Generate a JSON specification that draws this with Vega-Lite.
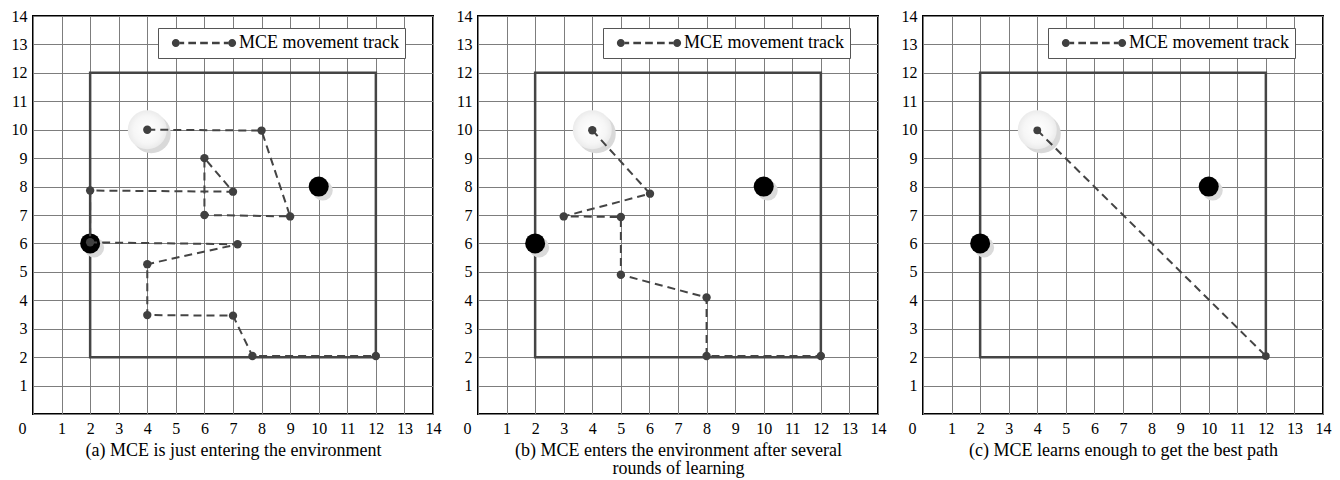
{
  "$schema": "https://vega.github.io/schema/vega-lite/v6.json",
  "padding": {"left": 10, "top": 7, "right": 5, "bottom": 5},
  "spacing": 45,
  "bounds": "flush",
  "datasets": {
    "track": [
      {"panel": "a", "order": 1, "x": 4, "y": 10},
      {"panel": "a", "order": 2, "x": 8, "y": 9.97},
      {"panel": "a", "order": 3, "x": 9, "y": 6.95},
      {"panel": "a", "order": 4, "x": 6, "y": 7},
      {"panel": "a", "order": 5, "x": 6, "y": 9},
      {"panel": "a", "order": 6, "x": 7, "y": 7.82},
      {"panel": "a", "order": 7, "x": 2, "y": 7.86},
      {"panel": "a", "order": 8, "x": 2, "y": 6.04},
      {"panel": "a", "order": 9, "x": 7.16, "y": 5.97},
      {"panel": "a", "order": 10, "x": 4, "y": 5.27},
      {"panel": "a", "order": 11, "x": 4, "y": 3.48},
      {"panel": "a", "order": 12, "x": 7, "y": 3.46},
      {"panel": "a", "order": 13, "x": 7.68, "y": 2.04},
      {"panel": "a", "order": 14, "x": 12, "y": 2.04},
      {"panel": "b", "order": 1, "x": 4, "y": 9.98},
      {"panel": "b", "order": 2, "x": 6.02, "y": 7.75},
      {"panel": "b", "order": 3, "x": 3, "y": 6.95},
      {"panel": "b", "order": 4, "x": 5, "y": 6.93},
      {"panel": "b", "order": 5, "x": 5, "y": 4.9},
      {"panel": "b", "order": 6, "x": 8, "y": 4.1},
      {"panel": "b", "order": 7, "x": 8, "y": 2.04},
      {"panel": "b", "order": 8, "x": 12, "y": 2.04},
      {"panel": "c", "order": 1, "x": 4, "y": 9.98},
      {"panel": "c", "order": 2, "x": 12, "y": 2.04}
    ],
    "objects": [
      {"kind": "start", "x": 4, "y": 10},
      {"kind": "obstacle", "x": 2, "y": 6},
      {"kind": "obstacle", "x": 10, "y": 8}
    ],
    "frame": [
      {"x": 2, "xe": 12, "y": 2, "ye": 12}
    ]
  },
  "config": {
    "font": "Liberation Serif",
    "view": {"stroke": "#000000", "strokeWidth": 2},
    "axis": {
      "grid": true,
      "gridColor": "#7d7d7d",
      "gridWidth": 1,
      "gridOpacity": 1,
      "domain": false,
      "ticks": false,
      "labelFont": "Liberation Serif",
      "labelFontSize": 16,
      "labelColor": "#000000",
      "labelPadding": 6,
      "labelFlush": false,
      "labelOverlap": false,
      "titleFont": "Liberation Serif",
      "titleFontSize": 18,
      "titleFontWeight": "normal",
      "titleColor": "#000000",
      "titlePadding": 5,
      "titleLineHeight": 18
    },
    "legend": {
      "orient": "none",
      "legendX": 125,
      "legendY": 12,
      "title": null,
      "padding": 6,
      "strokeColor": "#555555",
      "fillColor": "#ffffff",
      "labelFont": "Liberation Serif",
      "labelFontSize": 18,
      "labelColor": "#000000",
      "labelOffset": 26,
      "labelExpr": "datum.label + '\u00a0\u00a0'",
      "symbolType": "M -4.02 0 A 0.5 0.5 0 1 0 -3.02 0 A 0.5 0.5 0 1 0 -4.02 0 Z M 3.02 0 A 0.5 0.5 0 1 0 4.02 0 A 0.5 0.5 0 1 0 3.02 0 Z M -3.02 -0.16 H -2.48 V 0.16 H -3.02 Z M -1.96 -0.16 H -1 V 0.16 H -1.96 Z M -0.48 -0.16 H 0.48 V 0.16 H -0.48 Z M 1 -0.16 H 1.96 V 0.16 H 1 Z M 2.48 -0.16 H 3.02 V 0.16 H 2.48 Z",
      "symbolSize": 256,
      "symbolFillColor": "#404040",
      "symbolStrokeWidth": 0,
      "symbolOffset": 31
    }
  },
  "resolve": {"scale": {"color": "independent"}, "legend": {"color": "independent"}},
  "hconcat": [
    {
      "width": 400,
      "height": 398,
      "encoding": {
        "x": {"field": "x", "type": "quantitative", "scale": {"domain": [0, 14], "nice": false},
          "axis": {"title": "(a) MCE is just entering the environment", "values": [0,1,2,3,4,5,6,7,8,9,10,11,12,13,14],
            "labelFont": "Liberation Serif", "labelFontSize": 16, "titleFont": "Liberation Serif", "titleFontSize": 18,
            "labelOffset": {"condition": {"test": "datum.value == 0", "value": -11}, "value": 0}}},
        "y": {"field": "y", "type": "quantitative", "scale": {"domain": [0, 14], "nice": false},
          "axis": {"title": null, "values": [0,1,2,3,4,5,6,7,8,9,10,11,12,13,14], "labelFont": "Liberation Serif", "labelFontSize": 16,
            "labelExpr": "datum.value == 0 ? '' : datum.label"}}
      },
      "layer": [
        {
          "data": {"name": "frame"},
          "mark": {"type": "rect", "fill": "transparent", "stroke": "#454545", "strokeWidth": 2.5},
          "encoding": {"x2": {"field": "xe"}, "y2": {"field": "ye"}}
        },
        {
          "data": {"name": "objects"},
          "transform": [{"filter": "datum.kind == 'obstacle'"}],
          "mark": {"type": "point", "filled": true, "color": "#dadada", "opacity": 1, "size": 400, "xOffset": 4, "yOffset": 4}
        },
        {
          "data": {"name": "objects"},
          "transform": [{"filter": "datum.kind == 'start'"}],
          "mark": {"type": "point", "filled": true, "color": "#d9d9d9", "opacity": 1, "size": 1520, "xOffset": 4, "yOffset": 4}
        },
        {
          "data": {"name": "objects"},
          "transform": [{"filter": "datum.kind == 'start'"}],
          "mark": {"type": "point", "filled": true, "opacity": 1, "size": 1520,
            "color": {"gradient": "radial", "x1": 0.5, "y1": 0.5, "x2": 0.5, "y2": 0.5, "r1": 0, "r2": 0.5,
              "stops": [{"offset": 0, "color": "#ffffff"}, {"offset": 0.7, "color": "#f6f6f6"}, {"offset": 1, "color": "#ebebeb"}]}}
        },
        {
          "data": {"name": "objects"},
          "transform": [{"filter": "datum.kind == 'obstacle'"}],
          "mark": {"type": "point", "filled": true, "color": "#000000", "opacity": 1, "size": 400}
        },
        {
          "data": {"name": "track"},
          "transform": [{"filter": "datum.panel == 'a'"}],
          "mark": {"type": "line", "color": "#444444", "strokeWidth": 2, "strokeDash": [8, 5]},
          "encoding": {"order": {"field": "order", "type": "quantitative"}}
        },
        {
          "data": {"name": "track"},
          "transform": [{"filter": "datum.panel == 'a'"}],
          "mark": {"type": "point", "filled": true, "opacity": 1, "size": 70},
          "encoding": {"color": {"datum": "MCE movement track", "type": "nominal", "scale": {"range": ["#404040"]}}}
        }
      ]
    },
    {
      "width": 400,
      "height": 398,
      "encoding": {
        "x": {"field": "x", "type": "quantitative", "scale": {"domain": [0, 14], "nice": false},
          "axis": {"title": ["(b) MCE enters the environment after several", "rounds of learning"], "values": [0,1,2,3,4,5,6,7,8,9,10,11,12,13,14],
            "labelFont": "Liberation Serif", "labelFontSize": 16, "titleFont": "Liberation Serif", "titleFontSize": 18,
            "labelOffset": {"condition": {"test": "datum.value == 0", "value": -11}, "value": 0}}},
        "y": {"field": "y", "type": "quantitative", "scale": {"domain": [0, 14], "nice": false},
          "axis": {"title": null, "values": [0,1,2,3,4,5,6,7,8,9,10,11,12,13,14], "labelFont": "Liberation Serif", "labelFontSize": 16,
            "labelExpr": "datum.value == 0 ? '' : datum.label"}}
      },
      "layer": [
        {
          "data": {"name": "frame"},
          "mark": {"type": "rect", "fill": "transparent", "stroke": "#454545", "strokeWidth": 2.5},
          "encoding": {"x2": {"field": "xe"}, "y2": {"field": "ye"}}
        },
        {
          "data": {"name": "objects"},
          "transform": [{"filter": "datum.kind == 'obstacle'"}],
          "mark": {"type": "point", "filled": true, "color": "#dadada", "opacity": 1, "size": 400, "xOffset": 4, "yOffset": 4}
        },
        {
          "data": {"name": "objects"},
          "transform": [{"filter": "datum.kind == 'start'"}],
          "mark": {"type": "point", "filled": true, "color": "#d9d9d9", "opacity": 1, "size": 1520, "xOffset": 4, "yOffset": 4}
        },
        {
          "data": {"name": "objects"},
          "transform": [{"filter": "datum.kind == 'start'"}],
          "mark": {"type": "point", "filled": true, "opacity": 1, "size": 1520,
            "color": {"gradient": "radial", "x1": 0.5, "y1": 0.5, "x2": 0.5, "y2": 0.5, "r1": 0, "r2": 0.5,
              "stops": [{"offset": 0, "color": "#ffffff"}, {"offset": 0.7, "color": "#f6f6f6"}, {"offset": 1, "color": "#ebebeb"}]}}
        },
        {
          "data": {"name": "objects"},
          "transform": [{"filter": "datum.kind == 'obstacle'"}],
          "mark": {"type": "point", "filled": true, "color": "#000000", "opacity": 1, "size": 400}
        },
        {
          "data": {"name": "track"},
          "transform": [{"filter": "datum.panel == 'b'"}],
          "mark": {"type": "line", "color": "#444444", "strokeWidth": 2, "strokeDash": [8, 5]},
          "encoding": {"order": {"field": "order", "type": "quantitative"}}
        },
        {
          "data": {"name": "track"},
          "transform": [{"filter": "datum.panel == 'b'"}],
          "mark": {"type": "point", "filled": true, "opacity": 1, "size": 70},
          "encoding": {"color": {"datum": "MCE movement track", "type": "nominal", "scale": {"range": ["#404040"]}}}
        }
      ]
    },
    {
      "width": 400,
      "height": 398,
      "encoding": {
        "x": {"field": "x", "type": "quantitative", "scale": {"domain": [0, 14], "nice": false},
          "axis": {"title": "(c) MCE learns enough to get the best path", "values": [0,1,2,3,4,5,6,7,8,9,10,11,12,13,14],
            "labelFont": "Liberation Serif", "labelFontSize": 16, "titleFont": "Liberation Serif", "titleFontSize": 18,
            "labelOffset": {"condition": {"test": "datum.value == 0", "value": -11}, "value": 0}}},
        "y": {"field": "y", "type": "quantitative", "scale": {"domain": [0, 14], "nice": false},
          "axis": {"title": null, "values": [0,1,2,3,4,5,6,7,8,9,10,11,12,13,14], "labelFont": "Liberation Serif", "labelFontSize": 16,
            "labelExpr": "datum.value == 0 ? '' : datum.label"}}
      },
      "layer": [
        {
          "data": {"name": "frame"},
          "mark": {"type": "rect", "fill": "transparent", "stroke": "#454545", "strokeWidth": 2.5},
          "encoding": {"x2": {"field": "xe"}, "y2": {"field": "ye"}}
        },
        {
          "data": {"name": "objects"},
          "transform": [{"filter": "datum.kind == 'obstacle'"}],
          "mark": {"type": "point", "filled": true, "color": "#dadada", "opacity": 1, "size": 400, "xOffset": 4, "yOffset": 4}
        },
        {
          "data": {"name": "objects"},
          "transform": [{"filter": "datum.kind == 'start'"}],
          "mark": {"type": "point", "filled": true, "color": "#d9d9d9", "opacity": 1, "size": 1520, "xOffset": 4, "yOffset": 4}
        },
        {
          "data": {"name": "objects"},
          "transform": [{"filter": "datum.kind == 'start'"}],
          "mark": {"type": "point", "filled": true, "opacity": 1, "size": 1520,
            "color": {"gradient": "radial", "x1": 0.5, "y1": 0.5, "x2": 0.5, "y2": 0.5, "r1": 0, "r2": 0.5,
              "stops": [{"offset": 0, "color": "#ffffff"}, {"offset": 0.7, "color": "#f6f6f6"}, {"offset": 1, "color": "#ebebeb"}]}}
        },
        {
          "data": {"name": "objects"},
          "transform": [{"filter": "datum.kind == 'obstacle'"}],
          "mark": {"type": "point", "filled": true, "color": "#000000", "opacity": 1, "size": 400}
        },
        {
          "data": {"name": "track"},
          "transform": [{"filter": "datum.panel == 'c'"}],
          "mark": {"type": "line", "color": "#444444", "strokeWidth": 2, "strokeDash": [8, 5]},
          "encoding": {"order": {"field": "order", "type": "quantitative"}}
        },
        {
          "data": {"name": "track"},
          "transform": [{"filter": "datum.panel == 'c'"}],
          "mark": {"type": "point", "filled": true, "opacity": 1, "size": 60},
          "encoding": {"color": {"datum": "MCE movement track", "type": "nominal", "scale": {"range": ["#404040"]}}}
        }
      ]
    }
  ]
}
